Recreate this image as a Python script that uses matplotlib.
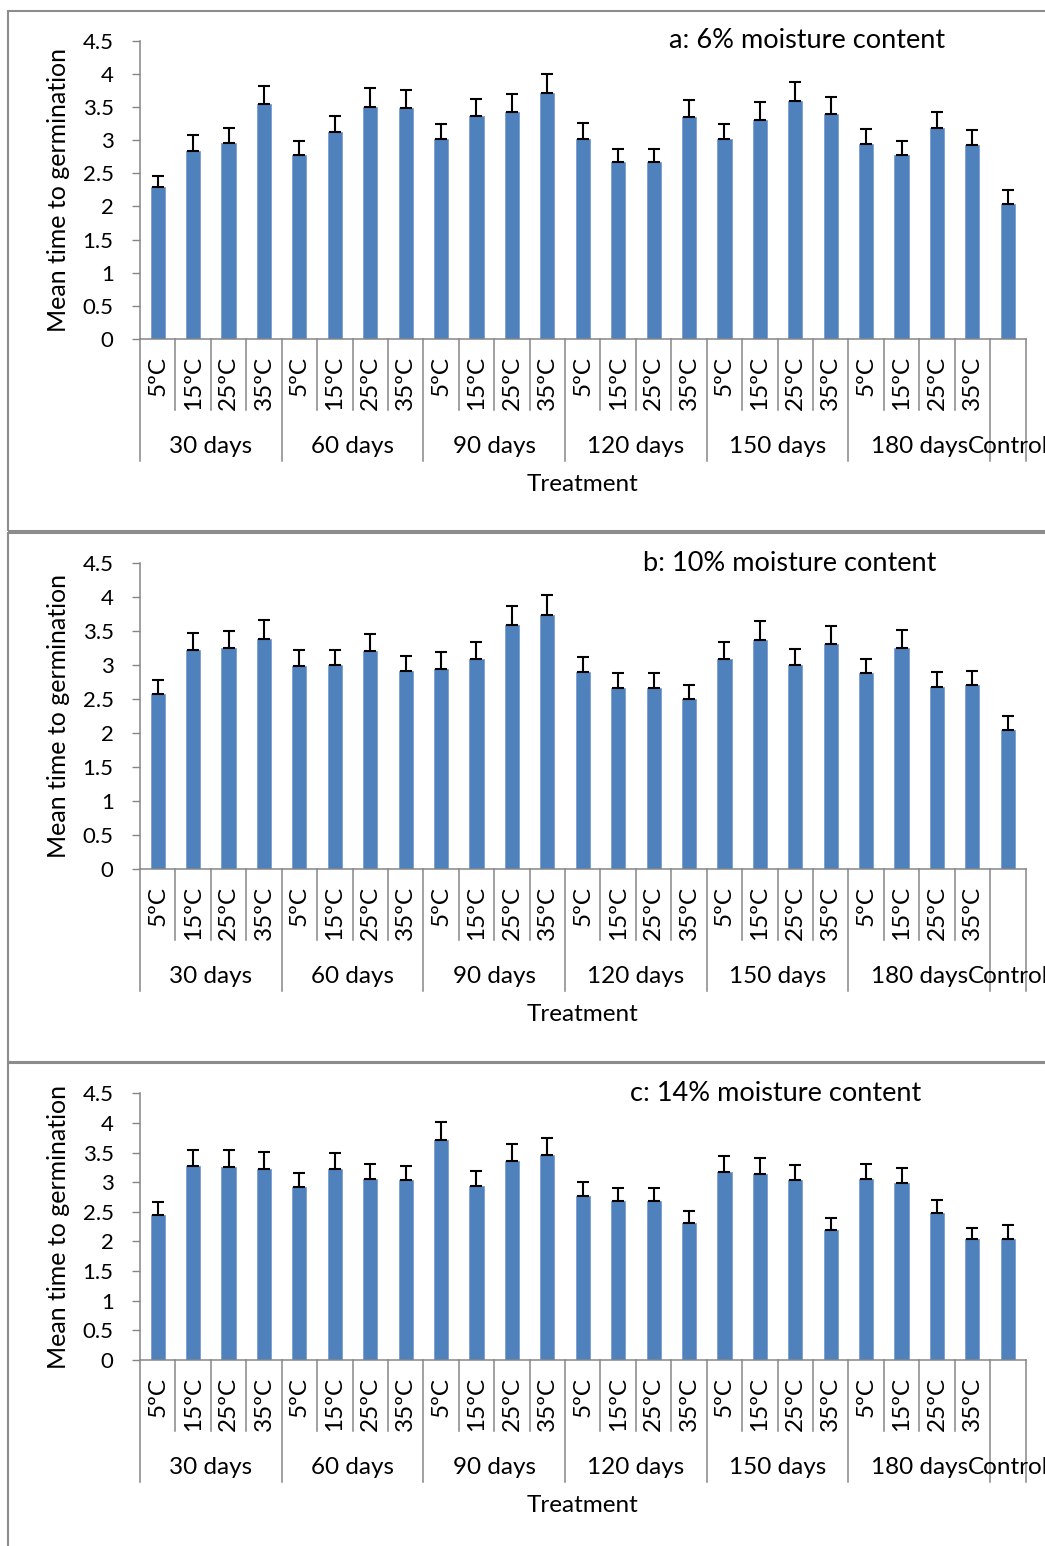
import numpy as np
import matplotlib
matplotlib.use("Agg")
import matplotlib.pyplot as plt
from matplotlib import transforms as mtransforms
from matplotlib.patches import Rectangle
from matplotlib.ticker import FormatStrFormatter

plt.rcParams['font.family'] = ['Lato', 'DejaVu Sans']

# categories
days = ["30 days", "60 days", "90 days", "120 days", "150 days", "180 days"]
temps = ["5ºC", "15ºC", "25ºC", "35ºC"]

# mean time to germination (30d..180d x 5/15/25/35 ºC, then control) and upper error
mc6 = [2.29, 2.84, 2.95, 3.54, 2.77, 3.12, 3.50, 3.48, 3.01, 3.36, 3.42, 3.71,
       3.02, 2.67, 2.67, 3.35, 3.01, 3.31, 3.59, 3.39, 2.94, 2.77, 3.18, 2.93, 2.04]
mc6_err = [0.17, 0.23, 0.23, 0.27, 0.22, 0.24, 0.28, 0.27, 0.24, 0.26, 0.27, 0.28,
           0.24, 0.20, 0.20, 0.26, 0.24, 0.26, 0.28, 0.26, 0.23, 0.22, 0.25, 0.23, 0.21]

mc10 = [2.58, 3.22, 3.26, 3.39, 2.99, 3.00, 3.21, 2.91, 2.95, 3.09, 3.60, 3.74,
        2.90, 2.67, 2.67, 2.51, 3.10, 3.38, 3.01, 3.32, 2.88, 3.25, 2.68, 2.71, 2.05]
mc10_err = [0.20, 0.26, 0.25, 0.27, 0.23, 0.23, 0.25, 0.22, 0.24, 0.25, 0.28, 0.30,
            0.22, 0.22, 0.22, 0.20, 0.25, 0.27, 0.23, 0.26, 0.22, 0.27, 0.22, 0.21, 0.21]

mc14 = [2.45, 3.27, 3.25, 3.23, 2.92, 3.22, 3.05, 3.03, 3.71, 2.94, 3.35, 3.46,
        2.77, 2.68, 2.68, 2.32, 3.17, 3.14, 3.03, 2.20, 3.05, 2.98, 2.48, 2.04, 2.04]
mc14_err = [0.21, 0.27, 0.29, 0.28, 0.24, 0.27, 0.26, 0.25, 0.31, 0.25, 0.29, 0.29,
            0.23, 0.22, 0.22, 0.20, 0.27, 0.27, 0.26, 0.20, 0.26, 0.26, 0.22, 0.18, 0.23]

titles = ["a: 6% moisture content", "b: 10% moisture content", "c: 14% moisture content"]

W, H = 1045, 1546
fig = plt.figure(figsize=(W / 100, H / 100), dpi=100)

GRAY = '#868686'
BLUE = '#4F81BD'
FS = 17.5

# panel placement in pixels: (top of axis, zero line, title x, box top, box bottom)
layout = [(40.6, 339.2, 807, 11.4, 531.5),
          (563.4, 869.2, 790, 533.2, 1061.5),
          (1093.3, 1360.0, 776, 1063.2, 1600)]


def draw_panel(vals, errs, title, top, zero, title_x, box_top, box_bot):
    x_left, x_right = 140, 1025.5
    axh = zero - top
    ax = fig.add_axes([x_left / W, 1 - zero / H, (x_right - x_left) / W, axh / H])

    # panel frame
    fig.patches.append(Rectangle((7.5 / W, 1 - box_bot / H), 1.2, (box_bot - box_top) / H,
                                 transform=fig.transFigure, fill=False,
                                 edgecolor='#8C8C8C', linewidth=1.5, clip_on=False))

    n = len(vals)
    x = np.arange(n) + 0.5
    ax.bar(x, vals, width=0.4, color=BLUE, edgecolor='#7C9ED0', linewidth=0.6, zorder=2)
    ax.errorbar(x, vals, yerr=[np.zeros(n), errs], fmt='none', ecolor='black',
                elinewidth=1.5, capsize=4.3, capthick=1.5, zorder=3)

    ax.set_xlim(0, n)
    ax.set_ylim(0, 4.5)
    ax.set_yticks(np.arange(0, 4.51, 0.5))
    ax.yaxis.set_major_formatter(FormatStrFormatter('%g'))
    ax.set_xticks([])
    for s in ['top', 'right']:
        ax.spines[s].set_visible(False)
    for s in ['left', 'bottom']:
        ax.spines[s].set_color(GRAY)
        ax.spines[s].set_linewidth(1.1)
    ax.tick_params(axis='y', length=6, width=1.0, color=GRAY, pad=13, labelsize=16)

    ax.set_ylabel("Mean time to germination", fontsize=18, va='center')
    ax.yaxis.set_label_coords((59 - x_left) / (x_right - x_left), 0.5)

    trans = mtransforms.blended_transform_factory(ax.transData, ax.transAxes)
    # category dividers below the axis
    for b in range(0, n + 1):
        group_edge = (b % 4 == 0) or b == n
        depth = 122 if group_edge else 71
        ax.plot([b, b], [0, -depth / axh], color=GRAY, lw=1.1, transform=trans, clip_on=False)

    # temperature labels
    for i in range(len(days) * len(temps)):
        ax.text(i + 0.5, -17 / axh, temps[i % 4], rotation=90, ha='center', va='top',
                fontsize=FS, transform=trans)
    # group labels
    for g, name in enumerate(days):
        ax.text(g * 4 + 2, -107 / axh, name, ha='center', va='center',
                fontsize=FS, transform=trans)
    ax.text(n - 0.5, -107 / axh, "Control", ha='center', va='center',
            fontsize=FS, transform=trans)
    ax.text(n / 2, -145 / axh, "Treatment", ha='center', va='center',
            fontsize=FS, transform=trans)

    fig.text(title_x / W, 1 - top / H, title, ha='center', va='center', fontsize=19.5)


series = [(mc6, mc6_err), (mc10, mc10_err), (mc14, mc14_err)]
for (vals, errs), title, (top, zero, tx, bt, bb) in zip(series, titles, layout):
    draw_panel(vals, errs, title, top, zero, tx, bt, bb)

fig.savefig("out.png", dpi=100)
